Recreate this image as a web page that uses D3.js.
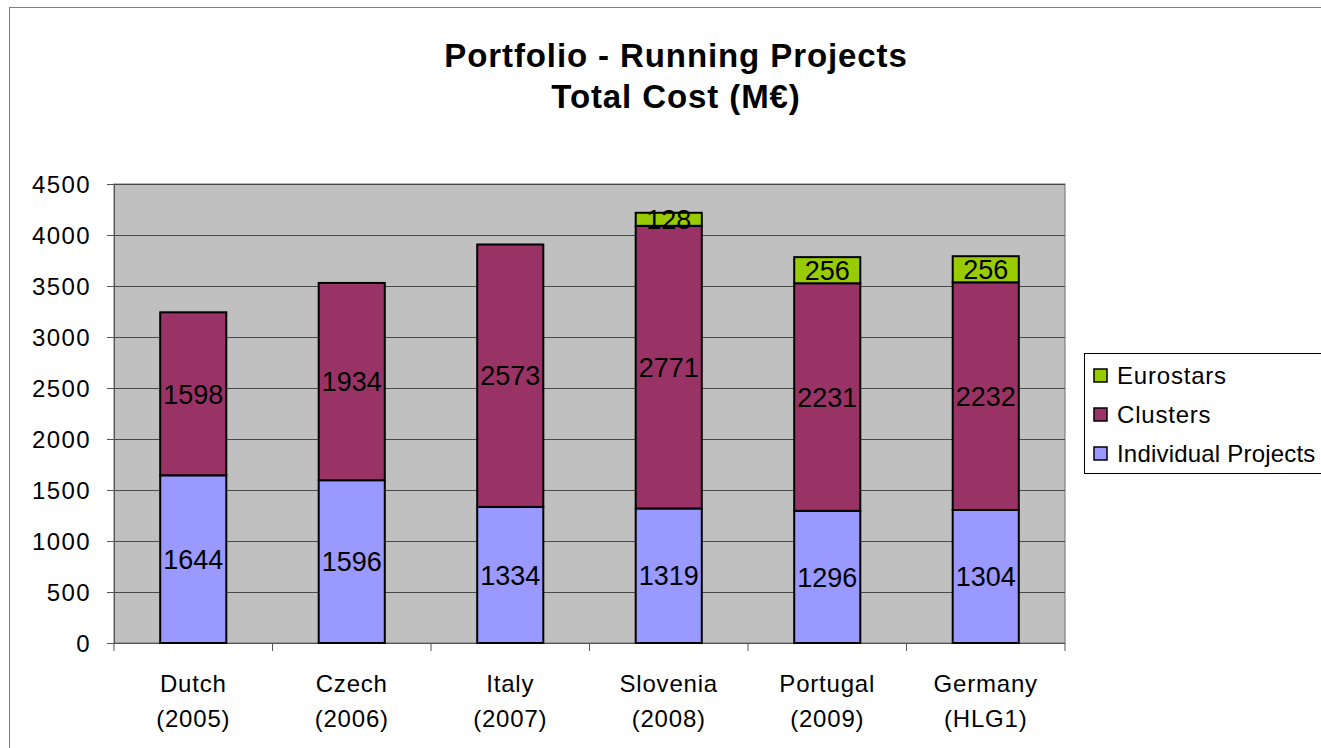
<!DOCTYPE html>
<html>
<head>
<meta charset="utf-8">
<script src="https://cdn.jsdelivr.net/npm/d3@7"></script>
<style>
  body { margin: 0; background: #fff; }
  text { font-family: "Liberation Sans", Arial, sans-serif; fill: #000; }
</style>
</head>
<body>
<div id="chart"></div>
<script>
// chart data
const categories = ["Dutch|(2005)", "Czech|(2006)", "Italy|(2007)", "Slovenia|(2008)", "Portugal|(2009)", "Germany|(HLG1)"];
const individualProjects = [1644, 1596, 1334, 1319, 1296, 1304];
const clusters = [1598, 1934, 2573, 2771, 2231, 2232];
const eurostars = [0, 0, 0, 128, 256, 256];
const yTicks = [0, 500, 1000, 1500, 2000, 2500, 3000, 3500, 4000, 4500];
const seriesNames = ["Individual Projects", "Clusters", "Eurostars"];
const colors = ["#9999ff", "#993366", "#99cc00"];

const width = 1321, height = 748;
const plot = {left: 114, right: 1065, top: 184, bottom: 643};

const svg = d3.select("#chart").append("svg")
  .attr("width", width)
  .attr("height", height);

// outer chart frame (runs off the right/bottom edge)
svg.append("rect")
  .attr("x", 9.5).attr("y", 7.5)
  .attr("width", 1400).attr("height", 800)
  .attr("fill", "#fff")
  .attr("stroke", "#808080");

// title
svg.append("text")
  .attr("x", 676).attr("y", 67)
  .attr("text-anchor", "middle")
  .style("font-size", "33px").style("font-weight", "bold")
  .style("letter-spacing", "0.9px")
  .text("Portfolio - Running Projects");
svg.append("text")
  .attr("x", 676).attr("y", 108)
  .attr("text-anchor", "middle")
  .style("font-size", "33px").style("font-weight", "bold")
  .style("letter-spacing", "0.9px")
  .text("Total Cost (M€)");

const x = d3.scaleBand()
  .domain(categories)
  .range([plot.left, plot.right])
  .paddingInner(0.583)
  .paddingOuter(0.2915);

const y = d3.scaleLinear()
  .domain([0, 4500])
  .range([plot.bottom, plot.top]);

// plot background
svg.append("rect")
  .attr("x", plot.left).attr("y", plot.top)
  .attr("width", plot.right - plot.left)
  .attr("height", plot.bottom - plot.top)
  .attr("fill", "#c0c0c0")
  .attr("stroke", "#707070");

// gridlines
svg.append("g")
  .selectAll("line")
  .data(yTicks.slice(1))
  .enter()
  .append("line")
  .attr("x1", plot.left).attr("x2", plot.right)
  .attr("y1", d => Math.round(y(d)) + 0.5)
  .attr("y2", d => Math.round(y(d)) + 0.5)
  .attr("stroke", "#4a4a4a")
  .attr("stroke-width", 1.2);

// y axis
const yAxis = svg.append("g")
  .attr("transform", `translate(${plot.left},0)`)
  .call(d3.axisLeft(y).tickValues(yTicks).tickSize(7).tickPadding(16).tickFormat(d3.format("d")));
yAxis.selectAll("text")
  .style("font-size", "24px")
  .style("letter-spacing", "1.4px")
  .attr("dy", "0.36em");
yAxis.select(".domain").attr("stroke", "#555");
yAxis.selectAll(".tick line").attr("stroke", "#555");

// x axis with ticks between categories
const xAxisG = svg.append("g");
xAxisG.append("line")
  .attr("x1", plot.left).attr("x2", plot.right)
  .attr("y1", plot.bottom + 0.5).attr("y2", plot.bottom + 0.5)
  .attr("stroke", "#555");
xAxisG.selectAll(".xt")
  .data(d3.range(categories.length + 1))
  .enter()
  .append("line")
  .attr("x1", i => plot.left + i * (plot.right - plot.left) / categories.length)
  .attr("x2", i => plot.left + i * (plot.right - plot.left) / categories.length)
  .attr("y1", plot.bottom).attr("y2", plot.bottom + 8)
  .attr("stroke", "#555");

const catLabels = xAxisG.selectAll(".cat")
  .data(categories)
  .enter()
  .append("text")
  .attr("text-anchor", "middle")
  .style("font-size", "24px")
  .style("letter-spacing", "0.8px");
catLabels.append("tspan")
  .attr("x", d => x(d) + x.bandwidth() / 2)
  .attr("y", 692)
  .text(d => d.split("|")[0]);
catLabels.append("tspan")
  .attr("x", d => x(d) + x.bandwidth() / 2)
  .attr("y", 727)
  .text(d => d.split("|")[1]);

// stacked bars
const rows = categories.map((c, i) => ({
  cat: c,
  "Individual Projects": individualProjects[i],
  "Clusters": clusters[i],
  "Eurostars": eurostars[i]
}));
const stacked = d3.stack().keys(seriesNames)(rows);

const layers = svg.append("g")
  .selectAll("g")
  .data(stacked)
  .enter()
  .append("g")
  .attr("fill", (d, i) => colors[i]);

layers.selectAll("rect")
  .data(d => d.filter(s => s[1] > s[0]))
  .enter()
  .append("rect")
  .attr("x", d => x(d.data.cat))
  .attr("y", d => y(d[1]))
  .attr("width", x.bandwidth())
  .attr("height", d => y(d[0]) - y(d[1]))
  .attr("stroke", "#000")
  .attr("stroke-width", 2);

// value labels
layers.selectAll("text")
  .data(d => d.filter(s => s[1] > s[0]))
  .enter()
  .append("text")
  .attr("x", d => x(d.data.cat) + x.bandwidth() / 2)
  .attr("y", d => (y(d[0]) + y(d[1])) / 2)
  .attr("dy", "0.36em")
  .attr("text-anchor", "middle")
  .style("font-size", "27px")
  .text(d => d[1] - d[0]);

// legend
const legend = svg.append("g").attr("transform", "translate(1084,353)");
legend.append("rect")
  .attr("x", 0.5).attr("y", 0.5)
  .attr("width", 300).attr("height", 120)
  .attr("fill", "#fff")
  .attr("stroke", "#000");
const legendItems = legend.selectAll(".item")
  .data(seriesNames.slice().reverse())
  .enter()
  .append("g")
  .attr("transform", (d, i) => `translate(0,${22 + i * 39})`);
legendItems.append("rect")
  .attr("x", 10).attr("y", -6)
  .attr("width", 13).attr("height", 13)
  .attr("fill", d => colors[seriesNames.indexOf(d)])
  .attr("stroke", "#000")
  .attr("stroke-width", 1.5);
legendItems.append("text")
  .attr("x", 33).attr("y", 0)
  .attr("dy", "0.36em")
  .style("font-size", "24px")
  .style("letter-spacing", d => d.length > 12 ? "0.2px" : "0.8px")
  .text(d => d);
</script>
</body>
</html>
